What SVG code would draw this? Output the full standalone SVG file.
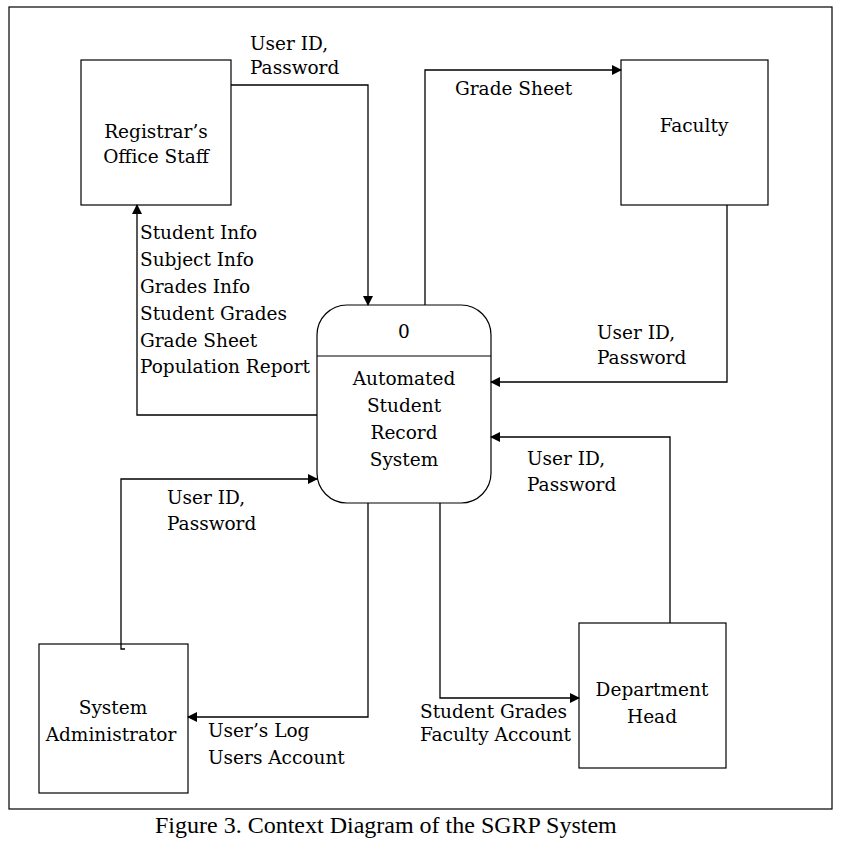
<svg xmlns="http://www.w3.org/2000/svg" width="843" height="849" viewBox="0 0 843 849">
<style>
.b{fill:#fff;stroke:#000;stroke-width:1.2}
.c{fill:none;stroke:#000;stroke-width:1.3}
text{font-family:"DejaVu Serif","Liberation Serif",serif;font-size:18.5px;fill:#000}
.m{text-anchor:middle}
</style>
<defs><marker id="a" markerWidth="10" markerHeight="10" refX="9" refY="5" orient="auto" markerUnits="userSpaceOnUse"><path d="M0,0L10,5L0,10z"/></marker></defs>
<rect width="843" height="849" fill="#fff"/>
<rect x="9" y="7" width="823" height="802" fill="none" stroke="#000" stroke-width="1.2"/>
<g id="registrar"><rect class="b" x="81" y="60" width="150" height="145"/><text class="m" x="156" y="138">Registrar’s</text><text class="m" x="156" y="163">Office Staff</text></g>
<g id="faculty"><rect class="b" x="621" y="60" width="147" height="145"/><text class="m" x="694" y="132">Faculty</text></g>
<g id="process"><rect class="b" x="317" y="305" width="174" height="198" rx="30"/><line x1="317" y1="356" x2="491" y2="356" stroke="#000" stroke-width="1.2"/><text class="m" x="404" y="338">0</text><text class="m" x="404" y="385">Automated</text><text class="m" x="404" y="412">Student</text><text class="m" x="404" y="439">Record</text><text class="m" x="404" y="466">System</text></g>
<g id="sysadmin"><rect class="b" x="39" y="644" width="149" height="149"/><text class="m" x="113" y="714">System</text><text class="m" x="111" y="741">Administrator</text></g>
<g id="depthead"><rect class="b" x="579" y="623" width="147" height="145"/><text class="m" x="652" y="696">Department</text><text class="m" x="652" y="723">Head</text></g>
<g id="connectors">
<path class="c" d="M231,85H368V305" marker-end="url(#a)"/>
<path class="c" d="M317,415H137V205" marker-end="url(#a)"/>
<path class="c" d="M425,305V70H621" marker-end="url(#a)"/>
<path class="c" d="M727,205V382H491" marker-end="url(#a)"/>
<path class="c" d="M670,623V437H491" marker-end="url(#a)"/>
<path class="c" d="M440,503V698H579" marker-end="url(#a)"/>
<path class="c" d="M368,503V717H188" marker-end="url(#a)"/>
<path class="c" d="M125,649H121V479H317" marker-end="url(#a)"/>
</g>
<g id="labels">
<text x="250" y="50">User ID,</text><text x="250" y="74">Password</text>
<text x="455" y="95">Grade Sheet</text>
<text x="140" y="239">Student Info</text><text x="140" y="266">Subject Info</text><text x="140" y="293">Grades Info</text><text x="140" y="320">Student Grades</text><text x="140" y="347">Grade Sheet</text><text x="140" y="373">Population Report</text>
<text x="597" y="339">User ID,</text><text x="597" y="364">Password</text>
<text x="527" y="465">User ID,</text><text x="527" y="491">Password</text>
<text x="167" y="504">User ID,</text><text x="167" y="530">Password</text>
<text x="420" y="718">Student Grades</text><text x="420" y="741">Faculty Account</text>
<text x="208" y="737">User’s Log</text><text x="208" y="764">Users Account</text>
</g>
<text x="155" y="833" style="font-family:'Liberation Serif',serif;font-size:24px">Figure 3. Context Diagram of the SGRP System</text>
</svg>
